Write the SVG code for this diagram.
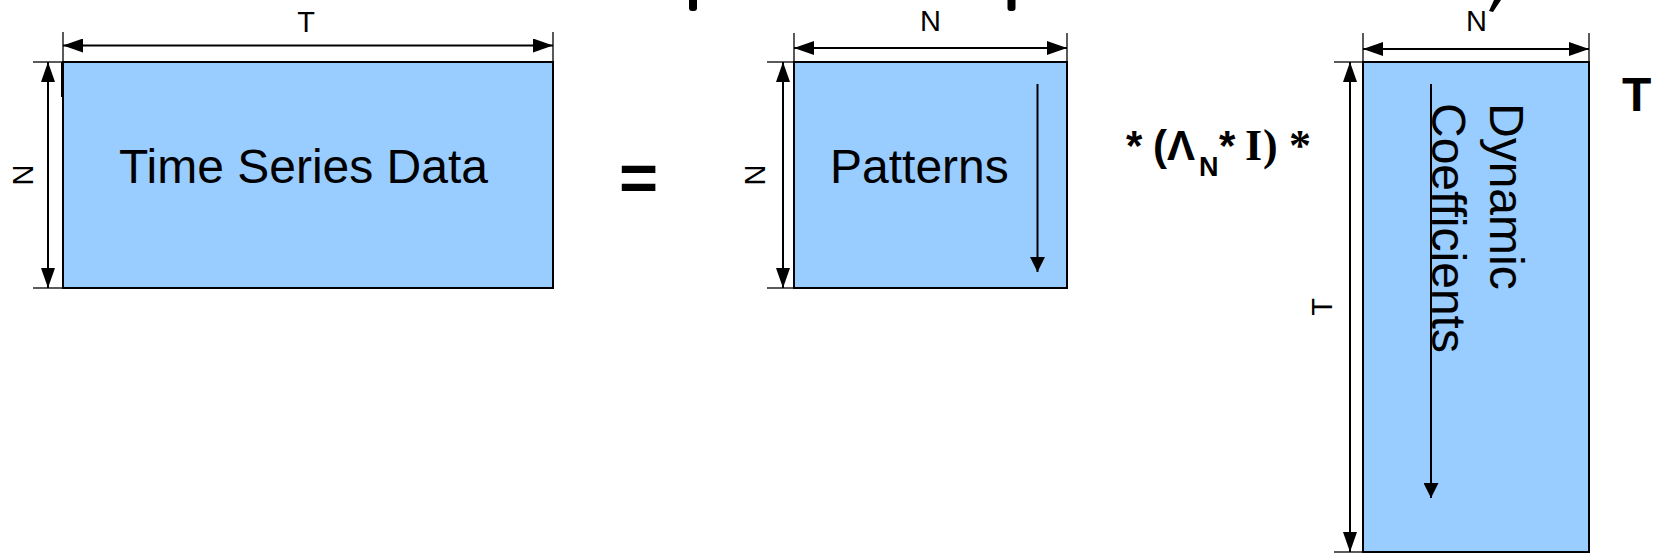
<svg xmlns="http://www.w3.org/2000/svg" width="1660" height="554" viewBox="0 0 1660 554">
  <style>
    .box { fill: #99ccff; stroke: #000; stroke-width: 2; }
    .dim { stroke: #000; stroke-width: 2; fill: none; marker-start: url(#dimHead); marker-end: url(#dimHead); }
    .ext { stroke: #000; stroke-width: 1.3; fill: none; }
    .flow { stroke: #000; stroke-width: 2; fill: none; marker-end: url(#flowHead); }
    .big { font-family: "Liberation Sans", Arial, sans-serif; font-size: 48px; fill: #000; }
    .lbl { font-family: "Liberation Sans", Arial, sans-serif; font-size: 29px; fill: #000; }
    .bold { font-family: "Liberation Sans", Arial, sans-serif; font-weight: bold; fill: #000; }
    .serif { font-family: "Liberation Serif", "Times New Roman", serif; font-weight: bold; fill: #000; }
    .frag { fill: #000; }
  </style>
  <defs>
    <marker id="dimHead" viewBox="0 0 20 14" refX="20" refY="7" markerWidth="20" markerHeight="14" markerUnits="userSpaceOnUse" orient="auto-start-reverse">
      <path d="M0,0 L20,7 L0,14 z" fill="#000"/>
    </marker>
    <marker id="flowHead" viewBox="0 0 15 15" refX="15" refY="7.5" markerWidth="15" markerHeight="15" markerUnits="userSpaceOnUse" orient="auto">
      <path d="M0,0 L15,7.5 L0,15 z" fill="#000"/>
    </marker>
  </defs>

  <!-- fragments of cut-off content at the top edge -->
  <g id="top-fragments">
    <rect class="frag" x="689" y="-5" width="8" height="16" rx="3"/>
    <rect class="frag" x="1007.5" y="-5" width="8" height="16" rx="3"/>
    <path class="frag" d="M1494,0 L1501,0 L1493,12 L1489,11 z"/>
  </g>

  <g id="time-series-data">
    <rect class="box" x="63" y="62" width="490" height="226"/>
    <line x1="62" y1="62" x2="62" y2="97" stroke="#000" stroke-width="2"/>
    <text class="big" x="119" y="183" font-size="48.2">Time Series Data</text>
  </g>

  <g id="equals">
    <text class="bold" x="619" y="201" font-size="67">=</text>
  </g>

  <g id="patterns">
    <rect class="box" x="794" y="62" width="273" height="226"/>
    <text class="big" x="830" y="183" font-size="48.5">Patterns</text>
  </g>

  <g id="formula">
    <text y="160">
      <tspan class="bold" x="1126" font-size="42">*</tspan>
      <tspan class="bold" x="1153" font-size="42">(</tspan>
      <tspan class="bold" x="1167" font-size="42">Λ</tspan>
      <tspan class="bold" x="1199" y="176" font-size="27">N</tspan>
      <tspan class="bold" x="1219" y="160" font-size="42">*</tspan>
      <tspan class="serif" x="1245" font-size="44">I</tspan>
      <tspan class="serif" x="1263" font-size="44">)</tspan>
      <tspan class="serif" x="1289" font-size="44">*</tspan>
    </text>
  </g>

  <g id="dynamic-coefficients">
    <rect class="box" x="1363" y="62" width="226" height="490"/>
    <text class="big" transform="translate(1490,103) rotate(90)">Dynamic</text>
    <text class="big" transform="translate(1432,103) rotate(90)">Coefficients</text>
  </g>

  <g id="transpose">
    <text class="bold" x="1622" y="111" font-size="48">T</text>
  </g>

  <g id="connectors">
    <!-- Time Series Data dimensions -->
    <line class="ext" x1="63" y1="32" x2="63" y2="62"/>
    <line class="ext" x1="553" y1="32" x2="553" y2="62"/>
    <line class="dim" x1="63" y1="45.5" x2="553" y2="45.5"/>
    <line class="ext" x1="33" y1="62" x2="63" y2="62"/>
    <line class="ext" x1="33" y1="288" x2="63" y2="288"/>
    <line class="dim" x1="48" y1="62" x2="48" y2="288"/>
    <!-- Patterns dimensions -->
    <line class="ext" x1="794" y1="33" x2="794" y2="62"/>
    <line class="ext" x1="1067" y1="33" x2="1067" y2="62"/>
    <line class="dim" x1="794" y1="48" x2="1067" y2="48"/>
    <line class="ext" x1="767" y1="62" x2="794" y2="62"/>
    <line class="ext" x1="767" y1="288" x2="794" y2="288"/>
    <line class="dim" x1="783" y1="62" x2="783" y2="288"/>
    <line class="flow" x1="1037.5" y1="84" x2="1037.5" y2="272"/>
    <!-- Dynamic Coefficients dimensions -->
    <line class="ext" x1="1363" y1="33" x2="1363" y2="62"/>
    <line class="ext" x1="1589" y1="33" x2="1589" y2="62"/>
    <line class="dim" x1="1363" y1="49" x2="1589" y2="49"/>
    <line class="ext" x1="1334" y1="62" x2="1363" y2="62"/>
    <line class="ext" x1="1334" y1="552" x2="1363" y2="552"/>
    <line class="dim" x1="1350" y1="62" x2="1350" y2="552"/>
    <line class="flow" x1="1431" y1="84" x2="1431" y2="498"/>
  </g>

  <g id="dimension-labels">
    <text class="lbl" x="306" y="32" text-anchor="middle">T</text>
    <text class="lbl" transform="translate(32.5,175) rotate(-90)" text-anchor="middle">N</text>
    <text class="lbl" x="930.5" y="31" text-anchor="middle">N</text>
    <text class="lbl" transform="translate(765,175) rotate(-90)" text-anchor="middle">N</text>
    <text class="lbl" x="1476.5" y="31" text-anchor="middle">N</text>
    <text class="lbl" transform="translate(1332,307) rotate(-90)" text-anchor="middle">T</text>
  </g>
</svg>
